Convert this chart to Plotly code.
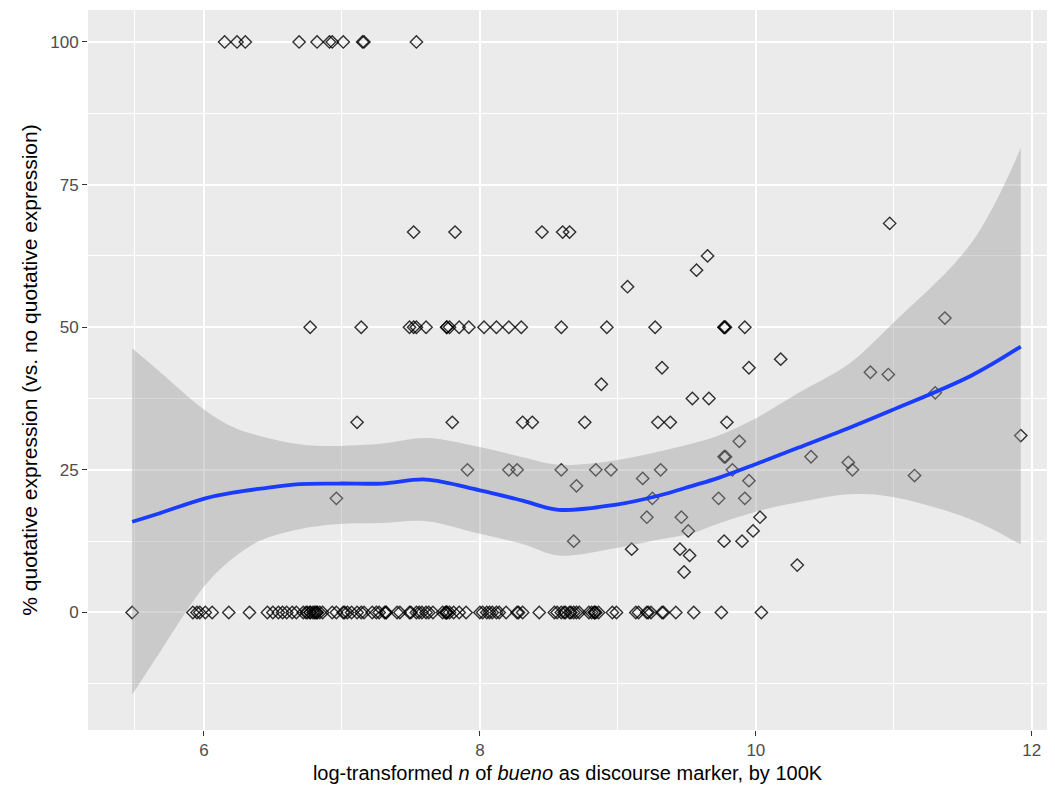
import plotly.graph_objects as go

# ---- data ----
x_at_100 = [6.15, 6.24, 6.30, 6.69, 6.82, 6.91, 6.93, 7.01, 7.15, 7.16, 7.54]
x_at_667 = [7.52, 7.82, 8.45, 8.60, 8.65]
x_at_50 = [6.77, 7.14, 7.49, 7.52, 7.54, 7.61, 7.76, 7.76, 7.78, 7.85, 7.92, 8.03,
           8.12, 8.21, 8.30, 8.59, 8.92, 9.27, 9.77, 9.77, 9.78, 9.92]
x_at_333 = [7.11, 7.80, 8.31, 8.38, 8.76, 9.29, 9.38, 9.79]
x_at_25 = [7.91, 8.21, 8.27, 8.59, 8.84, 8.95, 9.31, 9.83]
x_at_0 = [5.48, 5.92, 5.95, 5.97, 6.01, 6.06, 6.18, 6.33, 6.46, 6.50, 6.54, 6.57,
          6.60, 6.64, 6.67, 6.72, 6.74, 6.75, 6.77, 6.77, 6.79, 6.80, 6.81, 6.82,
          6.82, 6.84, 6.86, 6.93, 6.96, 7.01, 7.02, 7.04, 7.07, 7.11, 7.14, 7.16,
          7.22, 7.25, 7.27, 7.31, 7.32, 7.32, 7.40, 7.42, 7.49, 7.50, 7.54, 7.56,
          7.58, 7.61, 7.63, 7.66, 7.73, 7.75, 7.76, 7.76, 7.76, 7.78, 7.81, 7.85,
          7.90, 8.00, 8.02, 8.05, 8.07, 8.09, 8.12, 8.14, 8.19, 8.27, 8.28, 8.31,
          8.43, 8.54, 8.56, 8.59, 8.61, 8.62, 8.65, 8.66, 8.68, 8.70, 8.72, 8.79,
          8.81, 8.83, 8.83, 8.84, 8.86, 8.96, 8.99, 9.13, 9.15, 9.21, 9.22, 9.24,
          9.32, 9.33, 9.42, 9.55, 9.75, 10.04]
other_x = [9.07, 8.88, 9.32, 9.95, 9.54, 9.66, 9.57, 9.65, 10.97, 8.70, 9.18, 9.25,
           6.96, 9.88, 9.77, 9.78, 9.95, 9.73, 9.92, 9.21, 9.46, 9.51, 8.68, 9.10,
           9.45, 9.52, 9.48, 9.77, 9.90, 9.98, 10.03, 10.18, 10.83, 10.96, 11.37,
           11.30, 11.92, 10.40, 10.67, 10.70, 11.15, 10.30]
other_y = [57.1, 40.0, 42.9, 42.9, 37.5, 37.5, 60.0, 62.5, 68.2, 22.2, 23.5, 20.0,
           20.0, 30.0, 27.3, 27.3, 23.1, 20.0, 20.0, 16.7, 16.7, 14.3, 12.5, 11.1,
           11.1, 10.0, 7.1, 12.5, 12.5, 14.3, 16.7, 44.4, 42.1, 41.7, 51.6,
           38.5, 31.0, 27.3, 26.3, 25.0, 24.0, 8.3]

smooth_x = [5.48, 5.68, 6.01, 6.21, 6.41, 6.69, 6.98, 7.29, 7.61, 8.00, 8.31,
            8.57, 8.99, 9.30, 9.54, 9.73, 10.02, 10.31, 10.67, 10.98, 11.56, 11.92]
smooth_fit = [15.9, 17.4, 20.0, 21.0, 21.7, 22.5, 22.6, 22.6, 23.3, 21.4, 19.6,
              18.0, 18.9, 20.5, 22.2, 23.6, 26.2, 28.9, 32.3, 35.4, 41.5, 46.6]
smooth_upper = [46.3, 42.2, 35.4, 32.5, 30.9, 29.5, 29.2, 29.6, 30.6, 29.0, 27.2,
                25.9, 26.7, 28.2, 29.6, 31.0, 34.3, 38.5, 43.5, 50.4, 64.7, 81.4]
smooth_lower = [-14.4, -7.0, 4.8, 9.5, 12.6, 14.6, 15.5, 15.7, 16.0, 13.8, 12.0,
                10.0, 11.3, 12.8, 13.9, 15.6, 17.8, 19.3, 20.7, 20.3, 16.3, 11.9]

x_ticks = [6, 8, 10, 12]
y_ticks = [0, 25, 50, 75, 100]

pts_x = x_at_100 + x_at_667 + x_at_50 + x_at_333 + x_at_25 + x_at_0 + other_x
pts_y = ([100] * len(x_at_100) + [66.67] * len(x_at_667) + [50] * len(x_at_50)
         + [33.33] * len(x_at_333) + [25] * len(x_at_25) + [0] * len(x_at_0) + other_y)

FONT = "Liberation Sans, Arial, sans-serif"

fig = go.Figure()
fig.add_trace(go.Scatter(
    x=pts_x, y=pts_y, mode="markers",
    marker=dict(symbol="diamond-open", size=9.5, color="rgba(0,0,0,0.8)",
                line=dict(width=1.4, color="rgba(0,0,0,0.8)")),
    showlegend=False, hoverinfo="skip"))
fig.add_trace(go.Scatter(x=smooth_x, y=smooth_upper, mode="lines", line=dict(width=0, shape="spline"),
                         showlegend=False, hoverinfo="skip"))
fig.add_trace(go.Scatter(x=smooth_x, y=smooth_lower, mode="lines", line=dict(width=0, shape="spline"),
                         fill="tonexty", fillcolor="rgba(153,153,153,0.4)",
                         showlegend=False, hoverinfo="skip"))
fig.add_trace(go.Scatter(x=smooth_x, y=smooth_fit, mode="lines",
                         line=dict(color="#1a3cff", width=3.8, shape="spline"),
                         showlegend=False, hoverinfo="skip"))

axis_common = dict(
    showgrid=True, gridcolor="white", gridwidth=1.6,
    zeroline=False, showline=False,
    ticks="outside", ticklen=5, tickwidth=1.2, tickcolor="#333333",
    tickfont=dict(family=FONT, size=17, color="#4D4D4D"),
)

fig.update_layout(
    width=1055, height=789,
    margin=dict(l=88, r=8, t=10, b=59),
    paper_bgcolor="white", plot_bgcolor="#EBEBEB",
    xaxis=dict(range=[5.16, 12.11], tickvals=x_ticks, ticktext=[str(v) for v in x_ticks],
               minor=dict(tickvals=[5.5, 7, 9, 11], showgrid=True, gridcolor="white",
                          gridwidth=0.7, ticks=""),
               title=dict(text="log-transformed <i>n</i> of <i>bueno</i> as discourse marker, by 100K",
                          standoff=6, font=dict(family=FONT, size=20, color="black")),
               **axis_common),
    yaxis=dict(range=[-20.6, 105.6], tickvals=y_ticks, ticktext=[str(v) for v in y_ticks],
               minor=dict(tickvals=[-12.5, 12.5, 37.5, 62.5, 87.5], showgrid=True,
                          gridcolor="white", gridwidth=0.7, ticks=""),
               title=dict(text="% quotative expression (vs. no quotative expression)",
                          standoff=6, font=dict(family=FONT, size=21, color="black")),
               **axis_common),
)

fig.write_html("out.html")
